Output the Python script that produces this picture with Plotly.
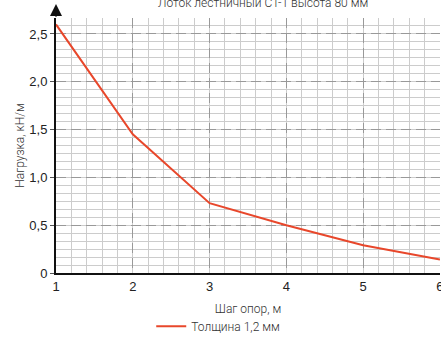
import plotly.graph_objects as go

spans = [1, 2, 3, 4, 5, 6]
loads = [2.6, 1.45, 0.73, 0.5, 0.29, 0.14]
series_name = "Толщина 1,2 мм"
y_ticks = [0, 0.5, 1.0, 1.5, 2.0, 2.5]
y_tick_labels = ["0", "0,5", "1,0", "1,5", "2,0", "2,5"]
x_ticks = [1, 2, 3, 4, 5, 6]
title_text = "Лоток лестничный СТ-1 высота 80 мм"
x_title = "Шаг опор, м"
y_title = "Нагрузка, кН/м"

cond = "Roboto, Liberation Sans Narrow, sans-serif"
tick_font = dict(family="Liberation Sans, Arial, sans-serif", size=13, color="#222")

fig = go.Figure()
fig.add_trace(go.Scatter(
    x=spans, y=loads, mode="lines", name=series_name,
    line=dict(color="#e8472b", width=2),
))

fig.update_layout(
    width=441, height=338,
    margin=dict(l=56, r=1, t=18, b=65, autoexpand=False),
    paper_bgcolor="white", plot_bgcolor="white",
    showlegend=True,
    legend=dict(orientation="h", x=0.248, xanchor="left", y=-0.152, yanchor="top",
                font=dict(family=cond, size=12, color="#333", weight=300),
                bgcolor="rgba(0,0,0,0)"),
    xaxis=dict(
        range=[1, 6.001], tickvals=x_ticks, ticktext=[str(v) for v in x_ticks],
        tickfont=tick_font, showline=True, linecolor="#111", linewidth=2,
        showgrid=True, gridcolor="#999", gridwidth=1, griddash="10px,5px",
        zeroline=False, ticks="", automargin=False, ticklabeloverflow="allow",
        minor=dict(dtick=0.2, tick0=1, showgrid=True, gridcolor="#ccc", gridwidth=1,
                   griddash="solid"),
        title=dict(text=x_title, font=dict(family=cond, size=12, color="#333", weight=300),
                   standoff=12),
    ),
    yaxis=dict(
        range=[0, 2.6668], tickvals=y_ticks, ticktext=y_tick_labels,
        tickfont=tick_font, showline=True, linecolor="#111", linewidth=2,
        showgrid=True, gridcolor="#999", gridwidth=1, griddash="10px,5px",
        zeroline=False, ticks="outside", ticklen=4, tickcolor="#555", automargin=False,
        minor=dict(dtick=1/12, tick0=0, showgrid=True, gridcolor="#ccc", gridwidth=1,
                   griddash="solid"),
        title=dict(text=y_title, font=dict(family=cond, size=12, color="#333", weight=300),
                   standoff=2),
    ),
)

fig.add_annotation(
    text=title_text, xref="paper", yref="paper", x=0.54, y=1 + 15 / 254.5,
    xanchor="center", yanchor="middle", showarrow=False,
    font=dict(family=cond, size=12, color="#333", weight=300),
)
fig.add_annotation(
    text="", xref="x", yref="paper", x=1, y=1 + 14 / 254.5,
    showarrow=True, ax=0, ay=14, arrowhead=2, arrowsize=1.2, arrowwidth=2,
    arrowcolor="#111",
)

fig.write_html("out.html", config={"displayModeBar": False},
               post_script="document.body.style.margin='0';")
